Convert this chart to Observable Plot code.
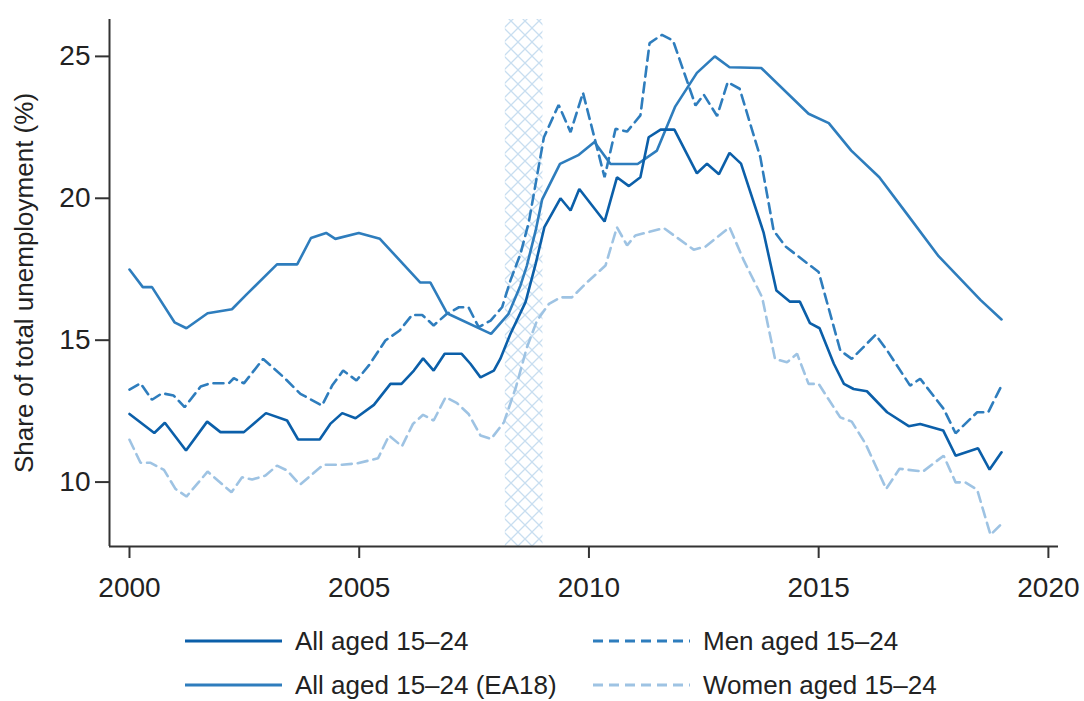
<!DOCTYPE html>
<html>
<head>
<meta charset="utf-8">
<script src="https://cdn.jsdelivr.net/npm/d3@7"></script>
<script src="https://cdn.jsdelivr.net/npm/@observablehq/plot@0.6"></script>
<style>
  body { margin: 0; background: #fff; font-family: "Liberation Sans", Arial, sans-serif; }
  #chart { width: 1084px; }
  #legend { display: grid; grid-template-columns: 408px 408px; grid-auto-rows: 44px; margin-left: 185px; margin-top: 9px; }
  .item { display: flex; align-items: center; font-size: 26px; line-height: 30px; color: #222; white-space: nowrap; }
  .item svg { margin-right: 13px; flex: none; }
</style>
</head>
<body>
<div id="chart"></div>
<div id="legend"></div>
<script>
// ---- Data ----
const xTicks = [2000, 2005, 2010, 2015, 2020];
const yTicks = [10, 15, 20, 25];
const recession = [2008.18, 2009.0];

const seriesNames = ["All aged 15–24", "Men aged 15–24", "All aged 15–24 (EA18)", "Women aged 15–24"];

const allYears = [2000.0,2000.54,2000.77,2001.23,2001.69,2001.98,2002.49,2002.97,2003.43,2003.67,2004.14,2004.37,2004.63,2004.92,2005.32,2005.68,2005.92,2006.19,2006.39,2006.62,2006.86,2007.23,2007.42,2007.64,2007.93,2008.07,2008.29,2008.62,2008.84,2009.03,2009.38,2009.6,2009.79,2010.34,2010.61,2010.87,2011.12,2011.3,2011.56,2011.86,2012.35,2012.57,2012.83,2013.06,2013.31,2013.8,2014.08,2014.37,2014.59,2014.81,2015.02,2015.33,2015.55,2015.76,2016.05,2016.49,2016.96,2017.21,2017.71,2017.98,2018.47,2018.72,2018.98];
const allValues = [12.40,11.73,12.09,11.11,12.13,11.76,11.76,12.43,12.17,11.5,11.5,12.05,12.43,12.25,12.72,13.46,13.46,13.93,14.36,13.93,14.52,14.52,14.17,13.69,13.93,14.34,15.22,16.34,17.69,18.98,20.0,19.57,20.33,19.18,20.74,20.43,20.74,22.15,22.42,22.42,20.88,21.22,20.85,21.6,21.22,18.8,16.75,16.36,16.36,15.6,15.42,14.17,13.46,13.28,13.2,12.46,11.97,12.05,11.82,10.93,11.19,10.44,11.05];

const ea18Years = [2000.0,2000.29,2000.49,2000.98,2001.24,2001.7,2002.23,2002.56,2003.21,2003.65,2003.95,2004.28,2004.48,2004.99,2005.45,2006.33,2006.55,2006.91,2007.87,2008.25,2008.51,2008.65,2008.84,2008.98,2009.37,2009.78,2010.12,2010.47,2011.06,2011.48,2011.88,2012.35,2012.74,2013.06,2013.75,2014.78,2015.22,2015.71,2016.32,2016.92,2017.61,2018.52,2018.98];
const ea18Values = [17.49,16.87,16.87,15.63,15.42,15.95,16.09,16.63,17.67,17.67,18.6,18.78,18.57,18.78,18.57,17.03,17.03,15.95,15.22,15.93,16.93,17.63,18.86,19.95,21.21,21.53,21.98,21.21,21.21,21.68,23.24,24.42,25.0,24.62,24.59,22.98,22.65,21.68,20.74,19.45,17.96,16.42,15.73];

const menYears = [2000.0,2000.24,2000.49,2000.71,2000.96,2001.2,2001.55,2001.76,2002.16,2002.27,2002.49,2002.91,2003.36,2003.72,2004.19,2004.41,2004.65,2004.94,2005.21,2005.57,2005.88,2006.15,2006.37,2006.62,2006.91,2007.17,2007.38,2007.6,2007.86,2008.11,2008.29,2008.51,2008.69,2009.02,2009.34,2009.6,2009.87,2010.34,2010.58,2010.83,2011.12,2011.32,2011.59,2011.83,2012.32,2012.5,2012.79,2013.02,2013.28,2013.73,2014.02,2014.28,2015.0,2015.47,2015.72,2016.24,2016.49,2016.99,2017.21,2017.72,2017.98,2018.45,2018.69,2018.98];
const menValues = [13.26,13.48,12.9,13.13,13.05,12.64,13.37,13.48,13.48,13.66,13.48,14.34,13.69,13.11,12.7,13.4,13.93,13.58,14.11,14.99,15.34,15.89,15.89,15.52,15.93,16.16,16.16,15.46,15.69,16.16,17.1,18.04,19.15,22.15,23.29,22.33,23.72,20.74,22.45,22.35,22.92,25.47,25.76,25.56,23.27,23.65,22.9,24.09,23.86,21.45,18.86,18.3,17.4,14.64,14.34,15.19,14.64,13.4,13.64,12.58,11.72,12.46,12.46,13.4];

const womenYears = [2000.0,2000.24,2000.46,2000.75,2001.0,2001.24,2001.7,2002.22,2002.45,2002.67,2002.96,2003.21,2003.43,2003.71,2004.22,2004.63,2004.96,2005.41,2005.65,2005.93,2006.17,2006.39,2006.62,2006.88,2007.13,2007.38,2007.64,2007.87,2008.15,2008.41,2008.65,2008.87,2009.13,2009.38,2009.63,2009.96,2010.36,2010.61,2010.83,2011.01,2011.63,2012.28,2012.54,2013.06,2013.37,2013.77,2014.05,2014.31,2014.53,2014.78,2015.0,2015.47,2015.72,2016.02,2016.47,2016.76,2017.27,2017.72,2017.98,2018.19,2018.45,2018.74,2018.98];
const womenValues = [11.49,10.68,10.68,10.43,9.76,9.49,10.37,9.64,10.17,10.09,10.23,10.58,10.41,9.91,10.61,10.61,10.66,10.84,11.64,11.26,12.05,12.37,12.17,12.99,12.78,12.4,11.64,11.52,12.11,13.34,14.75,15.69,16.28,16.51,16.51,17.04,17.63,18.98,18.34,18.69,18.95,18.19,18.3,18.98,17.81,16.51,14.34,14.22,14.52,13.46,13.46,12.28,12.13,11.35,9.76,10.47,10.37,10.93,9.99,9.99,9.73,8.14,8.53];

// ---- Styles ----
const styles = {
  "All aged 15–24": {stroke: "#0b5fa9", dash: null, width: 2.6},
  "All aged 15–24 (EA18)": {stroke: "#2e7dbd", dash: null, width: 2.6},
  "Men aged 15–24": {stroke: "#2e7dbd", dash: "10,6", width: 2.6},
  "Women aged 15–24": {stroke: "#9ec3e3", dash: "10,6", width: 2.6}
};

const zip = (xs, ys) => xs.map((x, i) => ({x, y: ys[i]}));
const seriesData = {
  "All aged 15–24": zip(allYears, allValues),
  "All aged 15–24 (EA18)": zip(ea18Years, ea18Values),
  "Men aged 15–24": zip(menYears, menValues),
  "Women aged 15–24": zip(womenYears, womenValues)
};
const drawOrder = ["Women aged 15–24", "Men aged 15–24", "All aged 15–24 (EA18)", "All aged 15–24"];

const xDomain = [1999.565, 2020.22];
const yDomain = [7.73, 26.3];
const axisColor = "#333";

const chart = Plot.plot({
  width: 1084,
  height: 610,
  marginTop: 19,
  marginBottom: 64,
  marginLeft: 109,
  marginRight: 26,
  style: {fontFamily: '"Liberation Sans", Arial, sans-serif', fontSize: "28px", color: "#222", background: "#fff"},
  x: {domain: xDomain},
  y: {domain: yDomain},
  marks: [
    Plot.rectX([{x1: recession[0], x2: recession[1]}], {x1: "x1", x2: "x2", fill: "url(#xhatch)"}),
    ...drawOrder.map(name => Plot.line(seriesData[name], {
      x: "x", y: "y",
      stroke: styles[name].stroke,
      strokeWidth: styles[name].width,
      strokeDasharray: styles[name].dash,
      strokeLinejoin: "miter"
    })),
    Plot.ruleX([xDomain[0]], {stroke: axisColor, strokeWidth: 2}),
    Plot.ruleY([yDomain[0]], {stroke: axisColor, strokeWidth: 2}),
    Plot.axisX({ticks: xTicks, tickFormat: d3.format("d"), tickSize: 12, tickPadding: 19, stroke: axisColor, strokeWidth: 2, label: null, fontSize: 28}),
    Plot.axisY({ticks: yTicks, tickSize: 14, tickPadding: 5, stroke: axisColor, strokeWidth: 2, fontSize: 28,
      label: "Share of total unemployment (%)", labelAnchor: "center", labelArrow: "none", labelOffset: 95})
  ]
});

// the axis title is slightly smaller than the tick labels
d3.select(chart).selectAll('g[aria-label="y-axis label"], g[aria-label="y-axis label"] text').attr("font-size", 26);

// crosshatch pattern for the recession band
const ns = "http://www.w3.org/2000/svg";
const defs = document.createElementNS(ns, "defs");
defs.innerHTML = `<pattern id="xhatch" patternUnits="userSpaceOnUse" width="14" height="14">
  <path d="M0,0 L14,14 M14,0 L0,14 M-1,13 L1,15 M13,-1 L15,1" stroke="#c8def0" stroke-width="1.3" fill="none"/>
</pattern>`;
chart.insertBefore(defs, chart.firstChild);
document.getElementById("chart").appendChild(chart);

// legend
const legendOrder = ["All aged 15–24", "Men aged 15–24", "All aged 15–24 (EA18)", "Women aged 15–24"];
const legend = document.getElementById("legend");
for (const name of legendOrder) {
  const s = styles[name];
  const item = document.createElement("div");
  item.className = "item";
  item.innerHTML = `<svg width="97" height="10"><line x1="0" y1="5" x2="97" y2="5" stroke="${s.stroke}" stroke-width="3" ${s.dash ? `stroke-dasharray="${s.dash}"` : ""}/></svg><span>${name}</span>`;
  legend.appendChild(item);
}
</script>
</body>
</html>
